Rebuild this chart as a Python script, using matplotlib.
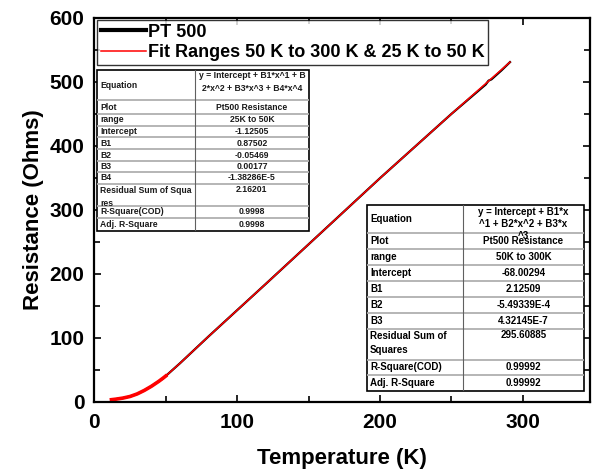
import matplotlib
matplotlib.use("Agg")
import matplotlib.pyplot as plt
from matplotlib.patches import Rectangle

plt.rcParams['font.family'] = ['Liberation Sans', 'DejaVu Sans']
plt.rcParams['font.weight'] = 'bold'

temp_k = [12, 15, 20, 25, 30, 35, 40, 45, 48, 50, 55, 60, 70, 80, 100, 120,
          150, 200, 250, 274, 276, 278, 280, 285, 291]
res_ohm = [3, 3.8, 5.5, 8, 12, 17.5, 24, 31.5, 36, 40, 50, 60, 81, 102, 143, 184,
           246, 349.5, 450, 496, 502, 504, 508, 518, 531]

# fitted curves, low and high range
fit_low_t = [12, 15, 20, 25, 30, 35, 40, 45, 48, 50]
fit_low_r = [3, 3.8, 5.5, 8, 12, 17.5, 24, 31.5, 36.5, 40]
fit_high_t = [50, 55, 60, 70, 80, 100, 120, 150, 200, 250, 291]
fit_high_r = [40, 50, 60, 81, 102, 143, 184, 246, 349.5, 450, 531]

x_ticks = [0, 100, 200, 300]
y_ticks = [0, 100, 200, 300, 400, 500, 600]

left_labels = ["Equation", "Plot", "range", "Intercept", "B1", "B2", "B3", "B4",
               "Residual Sum of Squa\nres", "R-Square(COD)", "Adj. R-Square"]
left_values = ["y = Intercept + B1*x^1 + B\n2*x^2 + B3*x^3 + B4*x^4",
               "Pt500 Resistance", "25K to 50K", "-1.12505", "0.87502", "-0.05469",
               "0.00177", "-1.38286E-5", "2.16201", "0.9998", "0.9998"]

right_labels = ["Equation", "Plot", "range", "Intercept", "B1", "B2", "B3",
                "Residual Sum of\nSquares", "R-Square(COD)", "Adj. R-Square"]
right_values = ["y = Intercept + B1*x\n^1 + B2*x^2 + B3*x\n^3",
                "Pt500 Resistance", "50K to 300K", "-68.00294", "2.12509",
                "-5.49339E-4", "4.32145E-7", "295.60885", "0.99992", "0.99992"]

W, H = 592, 472
fig = plt.figure(figsize=(W / 100, H / 100), dpi=100)
ax = fig.add_axes([94.3 / W, 1 - 401.6 / H, (590 - 94.3) / W, (401.6 - 18) / H])

ax.plot(temp_k, res_ohm, color='black', lw=1.6, label='PT 500')
ax.plot(fit_low_t, fit_low_r, color='red', lw=2.6)
ax.plot(fit_high_t, fit_high_r, color='red', lw=1.1,
        label='Fit Ranges 50 K to 300 K & 25 K to 50 K')

ax.set_xlim(0, 347)
ax.set_ylim(0, 600)
ax.set_xticks(x_ticks)
ax.set_yticks(y_ticks)
ax.set_xticks([50, 150, 250], minor=True)
ax.set_yticks([50, 150, 250, 350, 450, 550], minor=True)
ax.tick_params(which='both', direction='in', top=True, right=True, width=1.2)
ax.tick_params(which='major', length=5, labelsize=15)
ax.tick_params(which='minor', length=4)
ax.tick_params(axis='y', pad=7)
ax.tick_params(axis='x', pad=8)
for s in ax.spines.values():
    s.set_linewidth(1.6)

ax.set_xlabel('Temperature (K)', fontsize=16, fontweight='bold', labelpad=12)
ax.set_ylabel('Resistance (Ohms)', fontsize=16, fontweight='bold', labelpad=4)

leg = ax.legend(loc='upper left', bbox_to_anchor=(97 / W, 1 - 20 / H),
                bbox_transform=fig.transFigure, borderaxespad=0, fontsize=13,
                frameon=True, fancybox=False, edgecolor='black', handlelength=2.5,
                handletextpad=0.1, labelspacing=0.2, borderpad=0.2)
leg.get_frame().set_linewidth(1.0)
leg.legend_handles[0].set_linewidth(3)


def draw_table(x0, y0, x1, y1, split, heights, labels, values, fs, color, ls):
    tab = fig.add_axes([x0 / W, 1 - y1 / H, (x1 - x0) / W, (y1 - y0) / H])
    w, h = x1 - x0, y1 - y0
    tab.set_xlim(0, w)
    tab.set_ylim(h, 0)
    tab.axis('off')
    tab.add_patch(Rectangle((0, 0), w, h, facecolor='white', edgecolor='none'))
    top = 0
    for i, (lab, val) in enumerate(zip(labels, values)):
        rh = heights[i]
        if i > 0:
            tab.plot([0, w], [top, top], color='#b0b0b0', lw=1.3)
        multi = '\n' in lab or '\n' in val
        if '\n' in lab:
            tab.text(3, top + 2, lab, fontsize=fs, color=color, va='top',
                     linespacing=1.5)
        else:
            tab.text(3, top + rh / 2, lab, fontsize=fs, color=color, va='center')
        if multi:
            tab.text((split + w) / 2, top + 1.5, val, fontsize=fs, color=color,
                     va='top', ha='center', linespacing=ls)
        else:
            tab.text((split + w) / 2, top + rh / 2, val, fontsize=fs, color=color,
                     va='center', ha='center')
        top += rh
    tab.plot([split, split], [0, h], color='#606060', lw=0.8)
    tab.add_patch(Rectangle((0, 0), w, h, facecolor='none', edgecolor='black',
                            lw=1.2, clip_on=False))


draw_table(97, 70, 309, 231, 98,
           [30, 14, 12, 11, 12, 12, 11, 12, 22, 12, 13],
           left_labels, left_values, 6.2, '#1a1a1a', 1.5)
draw_table(367, 205, 584, 391, 96,
           [28, 16, 16, 16, 16, 16, 16, 31, 15, 16],
           right_labels, right_values, 7, 'black', 1.25)

fig.savefig('out.png', dpi=100)
